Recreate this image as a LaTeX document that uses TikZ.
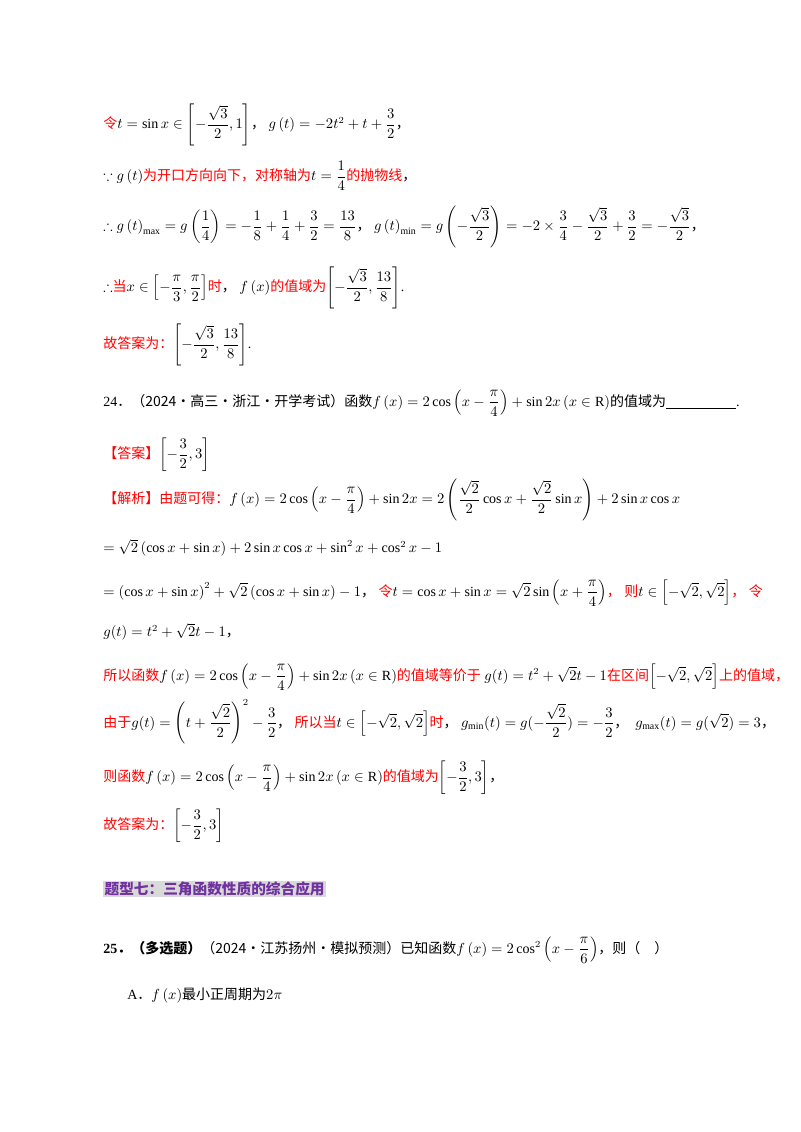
\documentclass[tikz,border=0pt]{standalone}
\usepackage{amsmath,amssymb}
\usepackage{fontspec}
\setmainfont{Liberation Serif}
\newfontfamily\cjk{Noto Sans CJK SC}
\newcommand\zh[1]{{\cjk #1}}
\newcommand\rz[1]{\textcolor{red}{\cjk #1}}
\newcommand\cc{{\cjk ，}}
\newcommand\dd{{\cjk ．}}
\definecolor{hdpurple}{HTML}{7030A0}
\definecolor{hdgray}{HTML}{D9D9D9}
\tikzset{ln/.style={anchor=west,inner sep=0pt,font=\fontsize{10.5}{12}\selectfont}}
\begin{document}
\begin{tikzpicture}[x=0.75pt,y=0.75pt]
\useasboundingbox[fill=white] (0,0) rectangle (800,-1132);
\node[ln] (l1) at (103,-125) {\rz{令}$t=\sin x\in\left[-\dfrac{\sqrt3}{2},1\right]$\cc\ $g\left(t\right)=-2t^2+t+\dfrac32$\cc};
\node[ln] (l2) at (103,-176) {$\because g\left(t\right)$\rz{为开口方向向下，对称轴为}$t=\dfrac14$\rz{的抛物线}\cc};
\node[ln] (l3) at (103,-227) {$\therefore g\left(t\right)_{\max}=g\left(\dfrac14\right)=-\dfrac18+\dfrac14+\dfrac32=\dfrac{13}{8}$\cc\ $g\left(t\right)_{\min}=g\left(-\dfrac{\sqrt3}{2}\right)=-2\times\dfrac34-\dfrac{\sqrt3}{2}+\dfrac32=-\dfrac{\sqrt3}{2}$\cc};
\node[ln] (l4) at (103,-288) {$\therefore$\rz{当}$x\in\left[-\dfrac{\pi}{3},\dfrac{\pi}{2}\right]$\rz{时}\cc\ $f\left(x\right)$\rz{的值域为}$\left[-\dfrac{\sqrt3}{2},\dfrac{13}{8}\right]$.};
\node[ln] (l5) at (103,-345) {\rz{故答案为：}$\left[-\dfrac{\sqrt3}{2},\dfrac{13}{8}\right]$.};
\node[ln] (l6) at (103,-403) {24\dd\zh{（2024·高三·浙江·开学考试）函数}$f\left(x\right)=2\cos\left(x-\dfrac{\pi}{4}\right)+\sin2x\left(x\in\mathrm{R}\right)$\zh{的值域为}\underline{\hspace{5em}}.};
\node[ln] (l7) at (103,-455) {\rz{【答案】}$\left[-\dfrac32,3\right]$};
\node[ln] (l8) at (103,-500) {\rz{【解析】由题可得：}$f\left(x\right)=2\cos\left(x-\dfrac{\pi}{4}\right)+\sin2x=2\left(\dfrac{\sqrt2}{2}\cos x+\dfrac{\sqrt2}{2}\sin x\right)+2\sin x\cos x$};
\node[ln] (l9) at (103,-548) {$=\sqrt2\left(\cos x+\sin x\right)+2\sin x\cos x+\sin^2x+\cos^2x-1$};
\node[ln] (l10) at (103,-593) {$=\left(\cos x+\sin x\right)^2+\sqrt2\left(\cos x+\sin x\right)-1$\cc\ \rz{令}$t=\cos x+\sin x=\sqrt2\sin\left(x+\dfrac{\pi}{4}\right)$\rz{，}\ \rz{则}$t\in\left[-\sqrt2,\sqrt2\right]$\rz{，}\ \rz{令}};
\node[ln] (l11) at (103,-632) {$g(t)=t^2+\sqrt2t-1$\cc};
\node[ln] (l12) at (103,-677) {\rz{所以函数}$f\left(x\right)=2\cos\left(x-\dfrac{\pi}{4}\right)+\sin2x\left(x\in\mathrm{R}\right)$\rz{的值域等价于}\ $g(t)=t^2+\sqrt2t-1$\rz{在区间}$\left[-\sqrt2,\sqrt2\right]$\rz{上的值域，}};
\node[ln] (l13) at (103,-722) {\rz{由于}$g(t)=\left(t+\dfrac{\sqrt2}{2}\right)^2-\dfrac32$\cc\ \rz{所以当}$t\in\left[-\sqrt2,\sqrt2\right]$\rz{时}\cc\ $g_{\min}(t)=g(-\dfrac{\sqrt2}{2})=-\dfrac32$\cc\ \ $g_{\max}(t)=g(\sqrt2)=3$\cc};
\node[ln] (l14) at (103,-778) {\rz{则函数}$f\left(x\right)=2\cos\left(x-\dfrac{\pi}{4}\right)+\sin2x\left(x\in\mathrm{R}\right)$\rz{的值域为}$\left[-\dfrac32,3\right]$\cc};
\node[ln] (l15) at (103,-826) {\rz{故答案为：}$\left[-\dfrac32,3\right]$};
\node[ln,fill=hdgray,text=hdpurple,inner sep=1pt,font=\fontsize{11}{12}\selectfont\cjk\bfseries] (h) at (103,-889) {题型七：三角函数性质的综合应用};
\node[ln] (l16) at (103,-950) {\textbf{25}{\cjk\bfseries ．（多选题）}\zh{（2024·江苏扬州·模拟预测）已知函数}$f\left(x\right)=2\cos^2\left(x-\dfrac{\pi}{6}\right)$\zh{，则（\quad）}};
\node[ln] (l17) at (127,-995) {A\dd$f\left(x\right)$\zh{最小正周期为}$2\pi$};
\end{tikzpicture}
\end{document}
